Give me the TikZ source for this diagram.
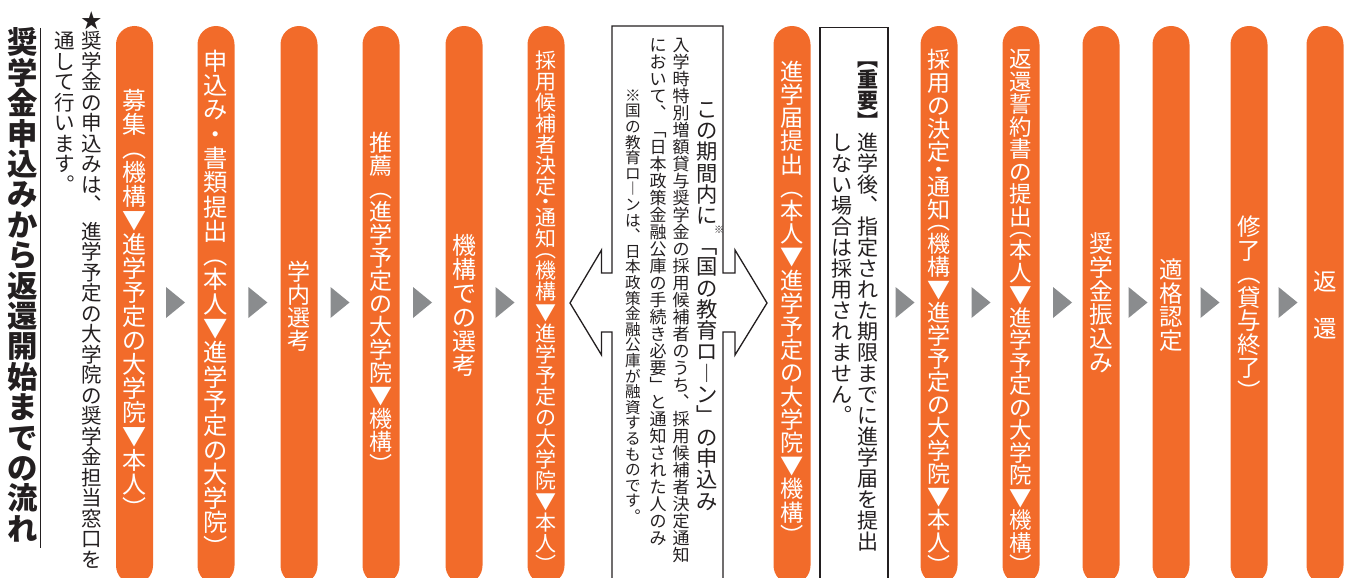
\documentclass[tikz,border=0pt]{standalone}
\usepackage{fontspec}
\newfontfamily\jp{Noto Sans CJK JP}
\definecolor{orangec}{HTML}{F26B2A}
\definecolor{trigrey}{HTML}{8A8C8E}
\definecolor{inkc}{HTML}{231F20}
\newcommand\fsz[1]{\fontsize{#1pt}{#1pt}\selectfont}
\makeatletter
% vertical text: one em cell per character, stacked top to bottom
\newcommand\vccell[1]{\hbox to 1em{\hss\vrule width0pt height .88em depth .12em\smash{#1}\hss}}
\newcommand\vtext[1]{\@tfor\vc@ch:=#1\do{\vccell{\vc@ch}}}
% half cells: opening bracket (ink in lower half), closing bracket (ink in upper half), middle dot
\newcommand\vop[1]{\hbox to 1em{\hss\vrule width0pt height .38em depth .12em\smash{#1}\hss}}
\newcommand\vcl[1]{\hbox to 1em{\hss\vrule width0pt height .38em depth .12em\smash{\raisebox{-.5em}{#1}}\hss}}
\newcommand\vhd[1]{\hbox to 1em{\hss\vrule width0pt height .38em depth .12em\smash{\raisebox{-.25em}{#1}}\hss}}
% small superscript reference mark at the right of the column
\newcommand\vsup{\hbox to 1em{\vrule width0pt height .3em depth .1em\hfill\smash{\raisebox{-.05em}{\fsz{10}※}}\kern-.3em}}
\newcommand\VT[1]{\vbox{\offinterlineskip #1}}
\makeatother
\tikzset{
  pill/.style={fill=orangec, rounded corners=18.5pt, minimum width=37pt, minimum height=558pt, inner sep=0pt},
  pilltext/.style={inner sep=0pt, text=white, font=\jp\fsz{23.5}},
  vt/.style={inner sep=0pt, text=inkc},
  tri/.style={fill=trigrey},
  boxline/.style={draw=inkc, line width=1.3pt},
}
\begin{document}
\begin{tikzpicture}[x=1pt,y=-1pt]
\useasboundingbox (0,0) rectangle (1347,578);
\clip (0,0) rectangle (1347,578);

% title and note
\node[vt, anchor=north, font=\jp\bfseries\fsz{30.4}] (title) at (22.5,27) {\VT{\vtext{奨学金申込みから返還開始までの流れ}}};
\coordinate (ulA) at (40.7,28);
\coordinate (ulB) at (40.7,548);
\draw[inkc, line width=1pt] (ulA) -- (ulB);
\node[vt, anchor=north, font=\jp\fsz{20.5}] (noteA) at (92,10) {\VT{\vtext{★奨学金の申込みは︑}\kern6pt\vtext{進学予定の大学院の奨学金担当窓口を}}};
\node[vt, anchor=north, font=\jp\fsz{20.5}] (noteB) at (64.5,30.5) {\VT{\vtext{通して行います︒}}};

% pills
\node[pill] (p1) at (134.5,305) {};
\node[pill] (p2) at (216,305) {};
\node[pill] (p3) at (299,305) {};
\node[pill] (p4) at (381,305) {};
\node[pill] (p5) at (464,305) {};
\node[pill] (p6) at (546,305) {};
\node[pill] (p7) at (792,305) {};
\node[pill] (p8) at (939,305) {};
\node[pill] (p9) at (1021,305) {};
\node[pill] (p10) at (1101,305) {};
\node[pill] (p11) at (1171,305) {};
\node[pill] (p12) at (1249,305) {};
\node[pill] (p13) at (1325,305) {};

\node[pilltext, font=\jp\fsz{24}] (t1) at (134.5,304) {\VT{\vtext{募集︵機構▼進学予定の大学院▼本人︶}}};
\node[pilltext, font=\jp\fsz{24.3}] (t2) at (216,304) {\VT{\vtext{申込み・書類提出︵本人▼進学予定の大学院︶}}};
\node[pilltext, font=\jp\fsz{23}] (t3) at (299,306) {\VT{\vtext{学内選考}}};
\node[pilltext, font=\jp\fsz{23}] (t4) at (381,304) {\VT{\vtext{推薦︵進学予定の大学院▼機構︶}}};
\node[pilltext, font=\jp\fsz{24}] (t5) at (464,305) {\VT{\vtext{機構での選考}}};
\node[pilltext, font=\jp\fsz{21}] (t6) at (546,307) {\VT{\vtext{採用候補者決定}\vhd{・}\vtext{通知}\vop{︵}\vtext{機構▼進学予定の大学院▼本人}\vcl{︶}}};
\node[pilltext, font=\jp\fsz{23.2}] (t7) at (792,303.5) {\VT{\vtext{進学届提出︵本人▼進学予定の大学院▼機構︶}}};
\node[pilltext, font=\jp\fsz{23}] (t8) at (939,307.5) {\VT{\vtext{採用の決定}\vhd{・}\vtext{通知}\vop{︵}\vtext{機構▼進学予定の大学院▼本人}\vcl{︶}}};
\node[pilltext, font=\jp\fsz{22.5}] (t9) at (1021,306.5) {\VT{\vtext{返還誓約書の提出}\vop{︵}\vtext{本人▼進学予定の大学院▼機構}\vcl{︶}}};
\node[pilltext, font=\jp\fsz{23.7}] (t10) at (1101,303) {\VT{\vtext{奨学金振込み}}};
\node[pilltext] (t11) at (1171,305) {\VT{\vtext{適格認定}}};
\node[pilltext] (t12) at (1249,309) {\VT{\vtext{修了︵貸与終了︶}}};
\node[pilltext] (t13) at (1325,305) {\VT{\vtext{返　還}}};

% grey triangles
\foreach \L in {166,248.4,330.5,413,495.5,895.5,971.5,1053,1128.5,1200.5,1278.5}{
  \fill[tri] (\L,287) -- (\L+19,302.5) -- (\L,318) -- cycle;
}

% box 1 with double arrow
\draw[boxline, line join=miter] (612,600) -- (612,332) -- (601.5,332) -- (601.5,355) -- (570,303) -- (601.5,250) -- (601.5,273) -- (612,273) -- (612,26) -- (723,26) -- (723,273) -- (735,273) -- (735,250) -- (767,303) -- (735,355) -- (735,332) -- (723,332) -- (723,600);
\node[vt, font=\jp\fsz{21.3}] (b1a) at (707,305) {\VT{\vtext{この期間内に}\vsup\vtext{﹁国の教育ロ︱ン﹂の申込み}}};
\node[vt, anchor=north, font=\jp\fsz{17}] (b1b) at (681,36) {\VT{\vtext{入学時特別増額貸与奨学金の採用候補者のうち︑採用候補者決定通知}}};
\node[vt, anchor=north, font=\jp\fsz{17}] (b1c) at (658,36) {\VT{\vtext{において︑﹁日本政策金融公庫の手続き必要﹂と通知された人のみ}}};
\node[vt, font=\jp\fsz{15.6}] (b1d) at (633,306) {\VT{\vtext{※国の教育ロ︱ンは︑日本政策金融公庫が融資するものです︒}}};

% box 2
\draw[boxline] (820,600) -- (820,27.7) -- (888,27.7) -- (888,600);
\node[vt, anchor=north, font=\jp\fsz{21}] (b2a) at (868,48) {\VT{{\bfseries\vtext{︻重要︼}}\vtext{進学後︑指定された期限までに進学届を提出}}};
\node[vt, anchor=north, font=\jp\fsz{21}] (b2b) at (842,132) {\VT{\vtext{しない場合は採用されません︒}}};
\end{tikzpicture}
\end{document}
